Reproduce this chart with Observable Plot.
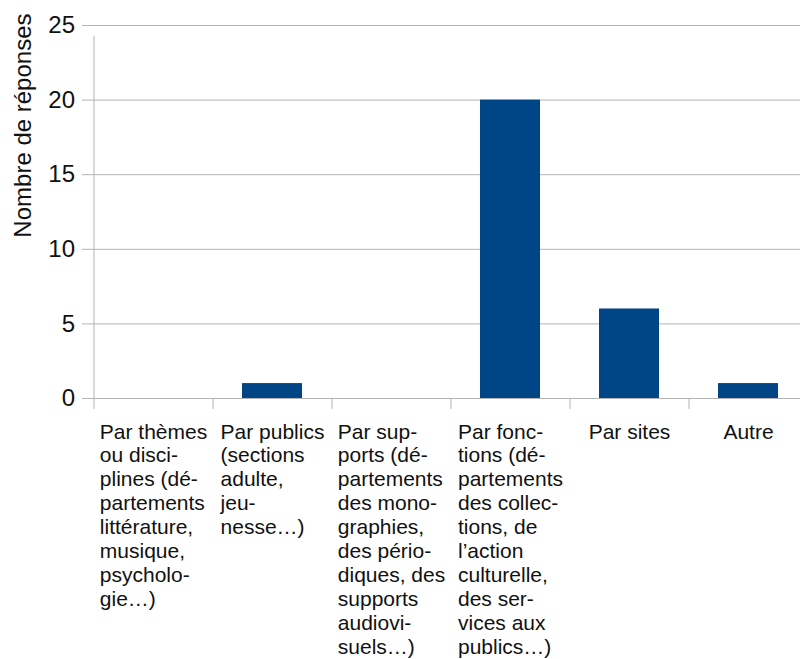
<!DOCTYPE html>
<html>
<head>
<meta charset="utf-8">
<script src="https://cdn.jsdelivr.net/npm/d3@7"></script>
<script src="https://cdn.jsdelivr.net/npm/@observablehq/plot@0.6"></script>
<style>
  html, body { margin: 0; padding: 0; background: #fff; }
  svg { display: block; }
</style>
</head>
<body>
<div id="chart"></div>
<script>
const categories = ["themes", "publics", "supports", "fonctions", "sites", "autre"];
const tickLabels = [
  "Par thèmes\nou disci-\nplines (dé-\npartements\nlittérature,\nmusique,\npsycholo-\ngie…)",
  "Par publics\n(sections\nadulte,\njeu-\nnesse…)",
  "Par sup-\nports (dé-\npartements\ndes mono-\ngraphies,\ndes pério-\ndiques, des\nsupports\naudiovi-\nsuels…)",
  "Par fonc-\ntions (dé-\npartements\ndes collec-\ntions, de\nl’action\nculturelle,\ndes ser-\nvices aux\npublics…)",
  "Par sites",
  "Autre"
];
const values = [0, 1, 0, 20, 6, 1];
const yTicks = [0, 5, 10, 15, 20, 25];
const yTitle = "Nombre de réponses";

const data = categories.map((c, i) => ({cat: c, value: values[i], label: tickLabels[i]}));

const W = 800, H = 659;
const mL = 93, mR = -7, mT = 25, mB = 261;
const step = (W - mR - mL) / categories.length;
const labelFont = 21;
const fontFamily = '"Liberation Sans", Arial, sans-serif';
const grid = "#b3b3b3";

const ctx = document.createElement("canvas").getContext("2d");
ctx.font = `${labelFont}px "Liberation Sans"`;
function blockWidth(s) {
  return Math.max(...s.split("\n").map(l => ctx.measureText(l).width));
}

const labelMarks = data.map(d => Plot.text([d], {
  x: "cat", y: () => 0, text: "label",
  textAnchor: "start", lineAnchor: "top",
  dx: -blockWidth(d.label) / 2, dy: 23,
  lineHeight: 1.14, fontSize: labelFont, fill: "#111", clip: false
}));

const chart = Plot.plot({
  width: W, height: H,
  marginLeft: mL, marginRight: mR, marginTop: mT, marginBottom: mB,
  style: {fontFamily, background: "#fff", overflow: "visible"},
  x: {domain: categories, paddingInner: 0.5, paddingOuter: 0.25, axis: null},
  y: {domain: [0, 25], ticks: yTicks, axis: null},
  marks: [
    Plot.ruleY(yTicks, {y: d => d, stroke: grid, strokeWidth: 1, insetLeft: -11}),
    Plot.ruleX(categories, {x: d => d, dx: -step / 2, y1: 0, y2: 25, stroke: grid, insetBottom: -11, filter: (d, i) => i === 0}),
    Plot.ruleX(categories, {x: d => d, dx: -step / 2, y1: 0, y2: 0, stroke: grid, insetBottom: -11}),
    Plot.barY(data, {x: "cat", y: "value", fill: "#004586"}),
    Plot.text(yTicks, {x: () => categories[0], y: d => d, text: d => String(d), dx: -step / 2 - 19, textAnchor: "end", fontSize: 24, fill: "#111"}),
    Plot.text([yTitle], {frameAnchor: "top-left", text: d => d, rotate: -90, dx: -80, dy: -12, textAnchor: "end", fontSize: 24, fill: "#111"}),
    ...labelMarks
  ]
});
document.getElementById("chart").append(chart);
</script>
</body>
</html>
